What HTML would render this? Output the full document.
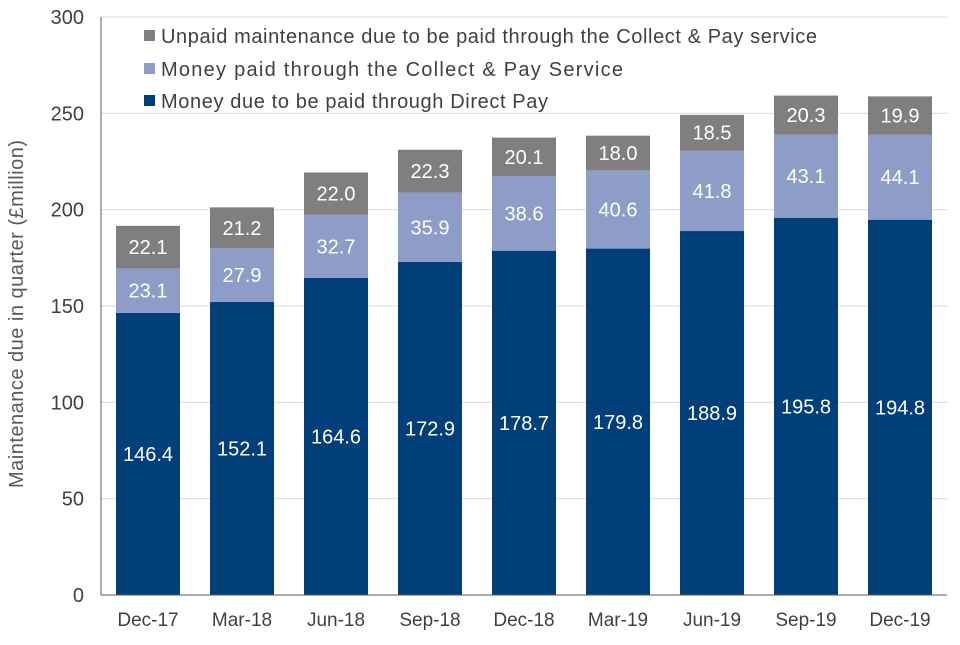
<!DOCTYPE html>
<html><head><meta charset="utf-8"><style>
body{margin:0;background:#fff;font-family:"Liberation Sans",Arial,sans-serif;}
svg text{font-family:"Liberation Sans",Arial,sans-serif;}
</style></head><body>
<svg id="chart" width="960" height="640" xmlns="http://www.w3.org/2000/svg">
<g id="grid"></g>
<g id="bars"></g>
<g id="axes"></g>
<text transform="translate(23,314) rotate(-90)" text-anchor="middle" font-size="20" fill="#595959" textLength="348" lengthAdjust="spacing">Maintenance due in quarter  (£million)</text>
<g>
<g><rect x="144" y="30" width="11" height="11" fill="#7f7f7f"/><text x="161" y="43" font-size="20" fill="#404040" textLength="656" lengthAdjust="spacing">Unpaid maintenance due to be paid through the Collect &amp; Pay service</text></g>
<g><rect x="144" y="63" width="11" height="11" fill="#8e9dc8"/><text x="161" y="76" font-size="20" fill="#404040" textLength="462" lengthAdjust="spacing">Money paid through the Collect &amp; Pay Service</text></g>
<g><rect x="144" y="95" width="11" height="11" fill="#003f7a"/><text x="161" y="108" font-size="20" fill="#404040" textLength="387" lengthAdjust="spacing">Money due to be paid through Direct Pay</text></g>
</g>
</svg>
<script>
const categories=["Dec-17","Mar-18","Jun-18","Sep-18","Dec-18","Mar-19","Jun-19","Sep-19","Dec-19"];
const directPay=[146.4,152.1,164.6,172.9,178.7,179.8,188.9,195.8,194.8];
const collectPay=[23.1,27.9,32.7,35.9,38.6,40.6,41.8,43.1,44.1];
const unpaid=[22.1,21.2,22.0,22.3,20.1,18.0,18.5,20.3,19.9];
const yTicks=[0,50,100,150,200,250,300];
const NS="http://www.w3.org/2000/svg";
const plotL=101,plotR=947,plotT=17,plotB=595,yMax=300;
const y=v=>plotB-(v/yMax)*(plotB-plotT);
const band=(plotR-plotL)/categories.length;
const x=i=>plotL+band*i+band/2;
const bw=64;
function mk(tag,attrs,parent){const e=document.createElementNS(NS,tag);for(const k in attrs)e.setAttribute(k,attrs[k]);parent.appendChild(e);return e;}
const grid=document.getElementById('grid'),bars=document.getElementById('bars'),axes=document.getElementById('axes');
yTicks.forEach(t=>{
  if(t>0){const l=mk('line',{x1:plotL,x2:plotR,y1:y(t),y2:y(t),stroke:'#d9d9d9','stroke-width':1},grid);
  
  }
  const tx=mk('text',{x:84,y:y(t)+7,'text-anchor':'end','font-size':20,fill:'#404040'},axes);
  tx.textContent=t;
  
  
});
const al=mk('line',{x1:plotL,x2:plotL,y1:plotT,y2:plotB,stroke:'#595959','stroke-width':1},axes);


const bl=mk('line',{x1:plotL,x2:plotR,y1:plotB,y2:plotB,stroke:'#595959','stroke-width':1},axes);


const series=[[directPay,'#003f7a','direct-pay'],[collectPay,'#8e9dc8','collect-pay'],[unpaid,'#7f7f7f','unpaid']];
categories.forEach((c,i)=>{
  let base=0;
  series.forEach(([arr,col,nm])=>{
    const v=arr[i];
    const r=mk('rect',{x:x(i)-bw/2,y:y(base+v),width:bw,height:y(base)-y(base+v),fill:col},bars);
    
    
    const t=mk('text',{x:x(i),y:(y(base)+y(base+v))/2+7,'text-anchor':'middle','font-size':20,fill:'#fff'},bars);
    t.textContent=v.toFixed(1);
    
    
    base+=v;
  });
  const xl=mk('text',{x:x(i),y:626,'text-anchor':'middle','font-size':19,fill:'#404040'},axes);
  xl.textContent=c;
  
  
});
</script>
</body></html>
